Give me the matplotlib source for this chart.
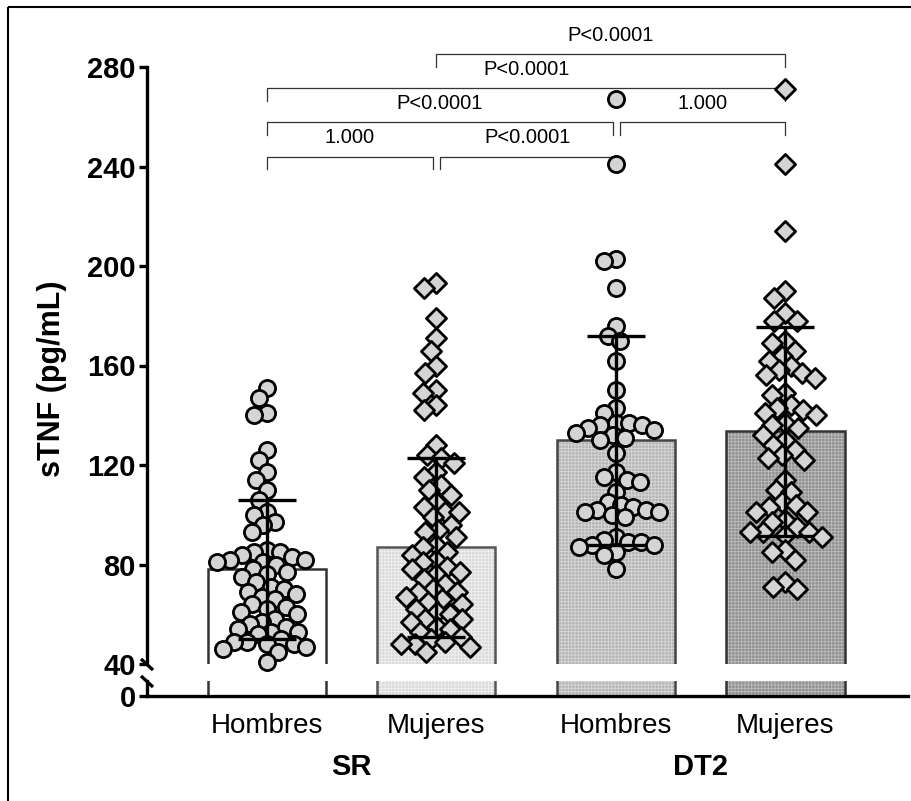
import numpy as np
import matplotlib
matplotlib.use("Agg")
import matplotlib.pyplot as plt
from matplotlib.lines import Line2D
from matplotlib.transforms import blended_transform_factory

plt.rcParams['font.family'] = ['Liberation Sans', 'DejaVu Sans']
plt.rcParams['hatch.linewidth'] = 0.6

# ---- data -------------------------------------------------------------
groups = ["SR", "DT2"]
sexes = ["Hombres", "Mujeres"]
means = [78, 87, 130, 133.5]
sds = [28, 36, 42, 42]

sr_hombres = [151, 147, 141, 140, 126, 122, 117, 114, 110, 106, 101, 100, 97, 96, 93,
              86, 85, 85, 84, 83, 82, 82, 81, 81, 80,
              78, 77, 76, 75, 73, 71, 70, 69, 68, 67, 66, 64, 63, 62, 61, 60, 58, 57,
              56, 55, 54, 53, 53, 52, 50, 49, 49, 48, 48, 47, 46, 45, 41]
sr_mujeres = [193, 191, 179, 171, 166, 160, 157, 150, 149, 144, 142, 128, 124, 123, 121,
              117, 115, 112, 110, 108, 105, 103, 101, 101, 99, 96, 94, 93, 91, 88,
              87, 85, 84, 82, 81, 79, 78, 77, 76, 74, 72, 70, 69, 69, 67, 66, 65, 64,
              62, 61, 60, 58, 58, 57, 55, 54, 53, 51, 50, 49, 48, 48, 47, 45]
dt2_hombres = [267, 241, 203, 202, 191, 176, 172, 170, 162, 150, 143, 141, 137, 137, 136,
               136, 135, 134, 133, 132, 131, 130, 125, 117, 115, 114, 113, 109, 105, 104,
               103, 102, 102, 101, 101, 100, 99, 91, 90, 89, 89, 88, 88, 87, 85, 84, 78]
dt2_mujeres = [271, 241, 214, 190, 187, 181, 178, 178, 170, 169, 166, 164, 162, 160, 158,
               157, 156, 155, 149, 148, 144, 143, 142, 141, 140, 137, 136, 135, 132, 130,
               128, 126, 124, 123, 122, 114, 110, 109, 105, 104, 103, 101, 101, 98, 97,
               95, 93, 93, 93, 92, 91, 86, 85, 82, 73, 71, 70]
samples = [sr_hombres, sr_mujeres, dt2_hombres, dt2_mujeres]

comparisons = [(0, 1, "1.000"), (1, 2, "P<0.0001"), (0, 2, "P<0.0001"),
               (2, 3, "1.000"), (0, 3, "P<0.0001"), (1, 3, "P<0.0001")]
comparison_tier = [0, 0, 1, 1, 2, 3]

# ---- layout -----------------------------------------------------------
W, H, DPI = 911, 801, 100
fig = plt.figure(figsize=(W / DPI, H / DPI), dpi=DPI)

def fig_rect(x0, y_top, x1, y_bot):
    return [x0 / W, 1 - y_bot / H, (x1 - x0) / W, (y_bot - y_top) / H]

ax = fig.add_axes(fig_rect(147, 67, 908, 664))
axb = fig.add_axes(fig_rect(147, 681, 908, 696), sharex=ax)

group_gap = 0.065
pos = np.array([g * (2 + group_gap) + s for g in range(len(groups)) for s in range(len(sexes))])
bar_w = 0.70
xlim = (-0.71, 3.79)

face = ['white', '#dadada', '#b5b5b5', '#909090']
hatch_col = [None, '#f0f0f0', '#d8d8d8', '#bdbdbd']
edge_col = ['#333333', '#555555', '#444444', '#333333']

for a in (ax, axb):
    for i in range(4):
        if hatch_col[i] is None:
            a.bar(pos[i], means[i], width=bar_w, color=face[i], edgecolor=edge_col[i],
                  linewidth=1.8, zorder=1)
        else:
            a.bar(pos[i], means[i], width=bar_w, color=face[i], edgecolor=hatch_col[i],
                  hatch='+++++', linewidth=0, zorder=1)
            a.bar(pos[i], means[i], width=bar_w, fill=False, edgecolor=edge_col[i],
                  linewidth=1.8, zorder=1.1)

ax.set_ylim(40, 280)
axb.set_ylim(0, 5)
ax.set_xlim(*xlim)

# ---- swarm of individual values ----------------------------------------
ax_h_px = 664 - 67
px_per_val = ax_h_px / 240.0
px_per_x = (908 - 147) / (xlim[1] - xlim[0])

def swarm_offsets(values, d):
    vals = np.asarray(values, float)
    ys = vals * px_per_val
    offs = np.zeros(len(vals))
    placed = []
    for i in np.argsort(-vals):
        y = ys[i]
        near = [(px, py) for px, py in placed if abs(py - y) < d]
        cands = [0.0]
        for px, py in near:
            dx = np.sqrt(d * d - (py - y) ** 2)
            cands += [px - dx, px + dx]
        cands.sort(key=abs)
        best = 0.0
        for c in cands:
            if all((c - px) ** 2 + (y - py) ** 2 >= d * d - 1e-6 for px, py in near):
                best = c
                break
        offs[i] = best
        placed.append((best, y))
    return offs / px_per_x

markers = ['o', 'D', 'o', 'D']
msize = [135, 105, 135, 105]
spacing = [13.0, 13.5, 13.0, 13.5]
for i, vals in enumerate(samples):
    xo = swarm_offsets(vals, spacing[i])
    ax.scatter(pos[i] + xo, vals, s=msize[i], marker=markers[i], facecolor='#d4d4d4',
               edgecolor='black', linewidth=2.0, zorder=3, clip_on=False)

ax.errorbar(pos, means, yerr=sds, fmt='none', ecolor='black', elinewidth=2.4,
            capsize=21, capthick=2.4, zorder=5)

# ---- axes styling -----------------------------------------------------
for a in (ax, axb):
    for s in ('top', 'right'):
        a.spines[s].set_visible(False)
    a.spines['left'].set_linewidth(2.4)
    a.tick_params(axis='y', direction='out', length=6, width=2.4, labelsize=21, pad=2)
ax.spines['bottom'].set_visible(False)
axb.spines['bottom'].set_linewidth(2.4)
ax.tick_params(axis='x', bottom=False, labelbottom=False)
ax.set_yticks([40, 80, 120, 160, 200, 240, 280])
axb.set_yticks([0])
for a in (ax, axb):
    for lab in a.get_yticklabels():
        lab.set_fontweight('bold')
axb.set_xticks(pos)
axb.set_xticklabels(sexes * len(groups), fontsize=20)
axb.tick_params(axis='x', length=0, pad=12)
for a in (ax, axb):
    a.set_facecolor('none')

tb = blended_transform_factory(axb.transData, fig.transFigure)
for g, name in enumerate(groups):
    xc = pos[2 * g: 2 * g + 2].mean()
    axb.text(xc, 1 - 767 / H, name, transform=tb, ha='center', va='center',
             fontsize=21, fontweight='bold')

fig.text(52 / W, 1 - 379 / H, "sTNF (pg/mL)", rotation=90, ha='center', va='center',
         fontsize=22, fontweight='bold')

# ---- axis break marks -------------------------------------------------
def fig_line(x0, y0, x1, y1, lw):
    fig.add_artist(Line2D([x0 / W, x1 / W], [1 - y0 / H, 1 - y1 / H], color='black',
                          linewidth=lw, solid_capstyle='butt'))

fig_line(141, 659, 153, 670, 2.4)
fig_line(141, 676, 153, 687, 2.4)

# ---- comparison brackets ----------------------------------------------
base, step, leg, txt_off = 244, 13.7, 5, 7.5
for k, (i, j, label) in enumerate(comparisons):
    t = comparison_tier[k]
    y = base + step * t
    same = [c for c, tt in zip(comparisons, comparison_tier) if tt == t and c is not comparisons[k]]
    x0 = pos[i] + (0.02 if any(c[1] == i for c in same) else 0.0)
    x1 = pos[j] - (0.02 if any(c[0] == j for c in same) else 0.0)
    ax.plot([x0, x0, x1, x1], [y - leg, y, y, y - leg], color='#333333', linewidth=0.9,
            clip_on=False, zorder=2)
    ax.text((x0 + x1) / 2, y + txt_off, label, ha='center', va='center', fontsize=14.5,
            clip_on=False)

# ---- frame lines ------------------------------------------------------
fig_line(8, 7, 911, 7, 1.5)
fig_line(8, 7, 8, 801, 1.5)

fig.savefig("out.png", dpi=DPI)
